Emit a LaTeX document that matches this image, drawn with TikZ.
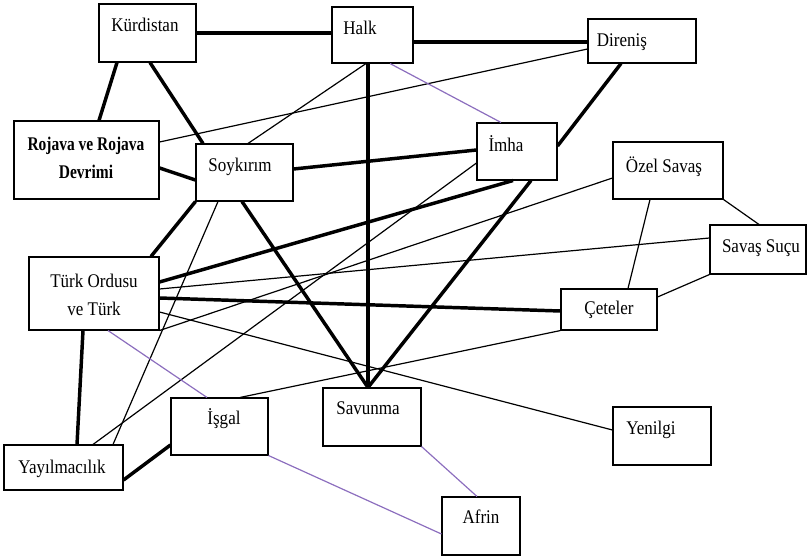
\documentclass[tikz,border=0pt]{standalone}
\usepackage{fontspec}
\setmainfont{Liberation Serif}[FakeStretch=0.88, BoldFeatures={FakeStretch=0.8}]
\usetikzlibrary{fit}
\definecolor{lila}{RGB}{140,110,190}
\tikzset{
  concept/.style={draw, line width=0.8pt, inner sep=0pt},
  caption/.style={inner sep=0pt, text height=10pt, text depth=3pt, font=\fontsize{14.5}{20.5}\selectfont},
  caption2/.style={inner sep=0pt, align=center, font=\fontsize{14.5}{20.5}\selectfont},
  strong/.style={line width=2.6pt},
  weak/.style={line width=0.9pt},
  lila link/.style={draw=lila, line width=0.9pt}
}
\begin{document}
\begin{tikzpicture}[x=0.75pt,y=-0.75pt]
          \useasboundingbox (0,0) rectangle (808,557);
          % boxes
          \node[concept, fit={(99,4) (196,62)}] (kurd) {};
          \node[concept, fit={(332,7) (413,63)}] (halk) {};
          \node[concept, fit={(588,19) (696,63)}] (dir) {};
          \node[concept, fit={(14,121) (159,199)}] (roj) {};
          \node[concept, fit={(196,144) (293,201)}] (soy) {};
          \node[concept, fit={(477,123) (557,180)}] (imha) {};
          \node[concept, fit={(613,142) (723,199)}] (ozel) {};
          \node[concept, fit={(710,225) (806,274)}] (suc) {};
          \node[concept, fit={(29,257) (159,330)}] (tur) {};
          \node[concept, fit={(561,289) (657,330)}] (cet) {};
          \node[concept, fit={(323,388) (421,446)}] (sav) {};
          \node[concept, fit={(171,398) (268,455)}] (isg) {};
          \node[concept, fit={(613,407) (711,465)}] (yen) {};
          \node[concept, fit={(4,445) (123,490)}] (yay) {};
          \node[concept, fit={(442,497) (520,555)}] (afr) {};
          % texts
          \node[caption] (kurd-t) at (145,27) {Kürdistan};
          \node[caption] (halk-t) at (360,30) {Halk};
          \node[caption] (dir-t) at (622,42) {Direniş};
          \node[caption2] (roj-t) at (86,158) {\textbf{Rojava ve Rojava}\\\textbf{Devrimi}};
          \node[caption] (soy-t) at (240,167) {Soykırım};
          \node[caption] (imha-t) at (506,147) {İmha};
          \node[caption] (ozel-t) at (664,168) {Özel Savaş};
          \node[caption] (suc-t) at (761,248) {Savaş Suçu};
          \node[caption2] (tur-t) at (94,295) {Türk Ordusu\\ve Türk};
          \node[caption] (cet-t) at (609,310) {Çeteler};
          \node[caption] (yen-t) at (651,430) {Yenilgi};
          \node[caption] (sav-t) at (368,410) {Savunma};
          \node[caption] (isg-t) at (224,420) {İşgal};
          \node[caption] (yay-t) at (62,469) {Yayılmacılık};
          \node[caption] (afr-t) at (481,519) {Afrin};
          % thick ties
          \draw[strong] (kurd.east |- 0,33) -- (halk.west |- 0,33);
          \draw[strong] (halk.east |- 0,42) -- (dir.west |- 0,42);
          \draw[strong] (kurd.south -| 117,0) -- (roj.north -| 99,0);
          \draw[strong] (kurd.south -| 150,0) -- (soy.north -| 203,0);
          \draw[strong] (roj.east |- 0,168) -- (soy.west |- 0,180);
          \draw[strong] (halk.south -| 368,0) -- (sav.north -| 368,0);
          \draw[strong] (soy.east |- 0,169) -- (imha.west |- 0,150);
          \draw[strong] (dir.south -| 621,0) -- (imha.east |- 0,146);
          \draw[strong] (imha.south -| 531,0) -- (sav.north -| 368,0);
          \draw[strong] (soy.south -| 242,0) -- (sav.north -| 368,0);
          \draw[strong] (soy.south west) -- (tur.north -| 151,0);
          \draw[strong] (tur.east |- 0,282) -- (imha.south -| 513,0);
          \draw[strong] (tur.east |- 0,298) -- (cet.west |- 0,311);
          \draw[strong] (tur.south -| 83,0) -- (yay.north -| 77,0);
          \draw[strong] (yay.east |- 0,480) -- (isg.west |- 0,445);
          % thin ties
          \draw[weak] (roj.east |- 0,142) -- (dir.west |- 0,49);
          \draw[weak] (halk.south -| 366,0) -- (soy.north -| 248,0);
          \draw[weak] (soy.south -| 218,0) -- (yay.north -| 113,0);
          \draw[weak] (yay.north -| 93,0) -- (imha.west |- 0,163);
          \draw[weak] (tur.south east) -- (ozel.west |- 0,178);
          \draw[weak] (tur.east |- 0,289) -- (suc.west |- 0,238);
          \draw[weak] (tur.east |- 0,312) -- (yen.west |- 0,430);
          \draw[weak] (isg.north -| 240,0) -- (cet.south west);
          \draw[weak] (ozel.south -| 650,0) -- (cet.north -| 628,0);
          \draw[weak] (ozel.south east) -- (suc.north -| 759,0);
          \draw[weak] (suc.south west) -- (cet.east |- 0,297);
          % purple ties
          \draw[lila link] (halk.south -| 390,0) -- (imha.north -| 501,0);
          \draw[lila link] (tur.south -| 108,0) -- (isg.north -| 207,0);
          \draw[lila link] (isg.south east) -- (afr.west |- 0,534);
          \draw[lila link] (sav.south east) -- (afr.north -| 477,0);
        \end{tikzpicture}
\end{document}
